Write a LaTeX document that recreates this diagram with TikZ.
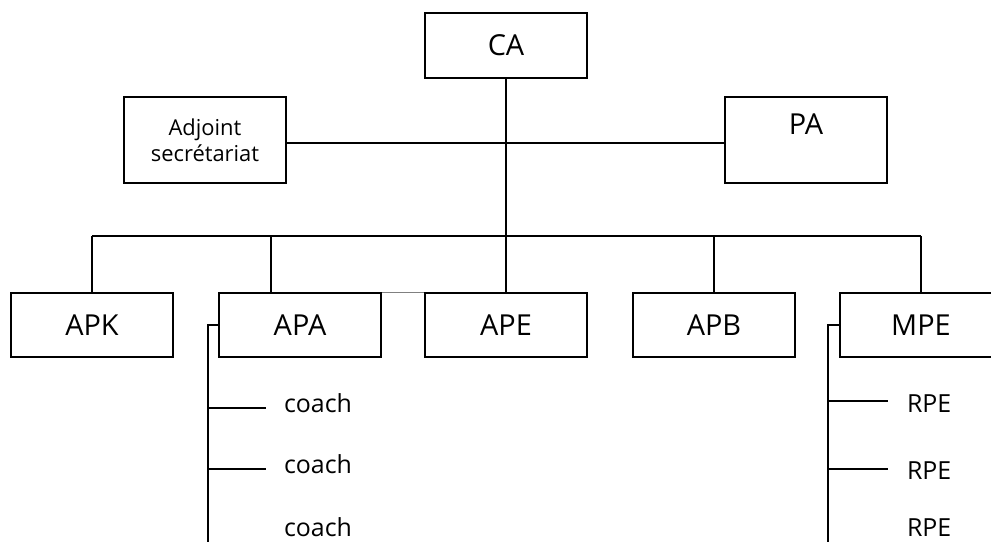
\documentclass[tikz,border=0pt]{standalone}
\usepackage{fontspec}
\setsansfont{Open Sans}
\begin{document}
\begin{tikzpicture}[x=1bp,y=-1bp,font=\sffamily,line width=2bp,
  box/.style={draw,minimum width=162bp,minimum height=64bp,inner sep=0pt,font=\sffamily\fontsize{29}{30}\selectfont},
  sub/.style={inner sep=0pt,font=\sffamily\fontsize{25}{26}\selectfont}]
\useasboundingbox (0,0) rectangle (991,542);

% top
\node[box,minimum height=65bp] (ca) at (506,45.5) {CA};
\node[box,minimum height=86bp,align=center,font=\sffamily\fontsize{22}{26}\selectfont] (adj) at (205,140) {Adjoint\\secrétariat};
\node[box,minimum height=86bp] (pa) at (806,140) {};
\node[inner sep=0pt,font=\sffamily\fontsize{29}{30}\selectfont] (patxt) at (806,124) {PA};

\coordinate (bus) at (506,236);
\draw (ca.south) -- (bus);
\draw ([yshift=-3bp]adj.east) -- ([yshift=-3bp]pa.west);

% bottom row
\node[box] (apk) at (92,325) {APK};
\node[box] (apa) at (300,325) {APA};
\node[box] (ape) at (506,325) {APE};
\node[box] (apb) at (714,325) {APB};
\node[box] (mpe) at (921,325) {MPE};

\draw (apk.north |- bus) -- (mpe.north |- bus);
\foreach \b in {apk,ape,apb,mpe}
  \draw (\b.north |- bus) -- (\b.north);
\coordinate (apadrop) at (271,236);
\draw (apadrop) -- (apadrop |- apa.north);
\draw[line width=0.6bp,gray] (apa.north east) -- (ape.north west);

% coaches
\coordinate (apaend) at (208,542);
\draw (apa.west) -| (apaend);
\foreach \y [count=\i] in {412,473,536}
  \node[sub,anchor=base west] (coach\i) at (283,\y) {coach};
\foreach \i/\y in {1/408,2/469}{
  \coordinate (cs\i) at (266,\y);
  \draw (cs\i -| apaend) -- (cs\i);
}

% RPE
\coordinate (mpeend) at (828,542);
\draw (mpe.west) -| (mpeend);
\foreach \y [count=\i] in {412.5,479,536}
  \node[sub,anchor=base west] (rpe\i) at (906,\y) {RPE};
\foreach \i/\y in {1/401,2/469}{
  \coordinate (rs\i) at (888,\y);
  \draw (rs\i -| mpeend) -- (rs\i);
}
\end{tikzpicture}
\end{document}
